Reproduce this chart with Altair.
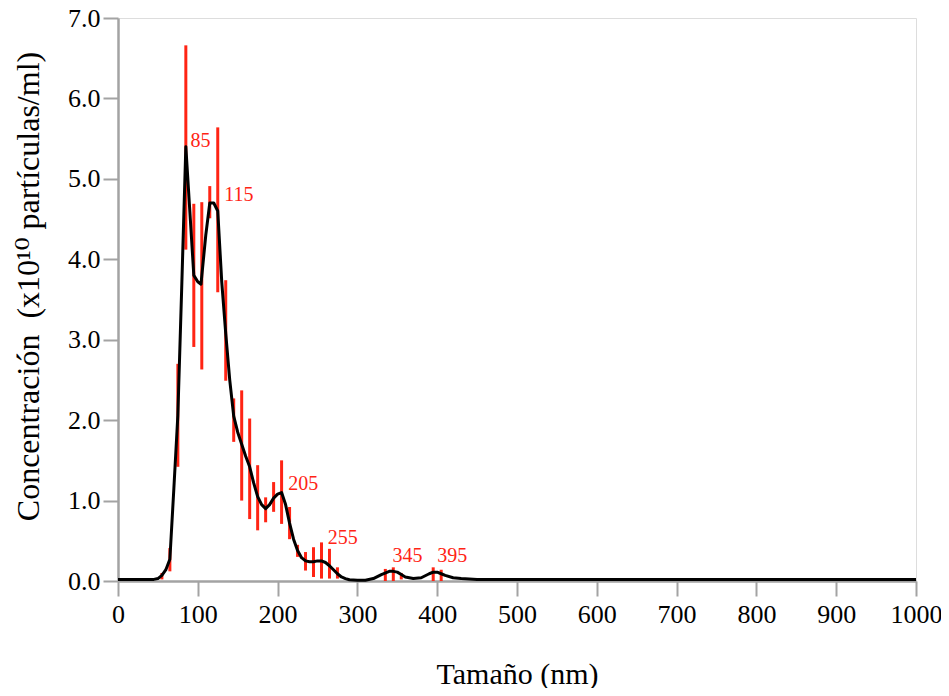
import altair as alt
import pandas as pd

# Black size-distribution curve (nm, concentration x10^10 particles/ml)
line_x = [0, 10, 20, 30, 40, 45, 50, 55, 60, 65, 70, 75, 80, 85, 90, 95, 100, 104,
          110, 115, 120, 125, 130, 135, 140, 145, 150, 155, 160, 165, 170, 175,
          180, 185, 190, 195, 200, 205, 210, 215, 220, 225, 230, 235, 240, 245,
          250, 255, 260, 265, 270, 275, 280, 285, 290, 300, 310, 320, 330, 340,
          345, 350, 355, 360, 370, 380, 390, 395, 400, 405, 410, 420, 430, 450,
          500, 600, 700, 800, 900, 1000]
line_y = [0.02, 0.02, 0.02, 0.02, 0.02, 0.02, 0.03, 0.07, 0.14, 0.27, 1.15, 2.06, 3.70, 5.40, 4.60, 3.80, 3.72, 3.69,
          4.30, 4.70, 4.70, 4.60, 3.72, 3.08, 2.50, 2.05, 1.85, 1.70, 1.55, 1.42, 1.22, 1.05,
          0.95, 0.90, 0.95, 1.03, 1.08, 1.10, 0.95, 0.72, 0.52, 0.38, 0.29, 0.25, 0.24, 0.24,
          0.25, 0.25, 0.23, 0.19, 0.14, 0.09, 0.05, 0.03, 0.015, 0.01, 0.01, 0.03, 0.08, 0.12,
          0.12, 0.11, 0.08, 0.05, 0.03, 0.04, 0.09, 0.11, 0.11, 0.09, 0.07, 0.04, 0.03, 0.02,
          0.02, 0.02, 0.02, 0.02, 0.02, 0.02]

# Red error bars
bar_x = [55, 65, 75, 85, 95, 105, 115, 125, 135, 145, 155, 165, 175, 185, 195, 205,
         215, 225, 235, 245, 255, 265, 275, 335, 345, 355, 395, 405]
bar_lo = [0.02, 0.12, 1.42, 4.12, 2.91, 2.63, 4.51, 3.59, 2.49, 1.73, 1.00, 0.77, 0.63, 0.73, 0.86, 0.71,
          0.52, 0.30, 0.13, 0.05, 0.03, 0.03, 0.03, 0.00, 0.00, 0.02, 0.00, 0.00]
bar_hi = [0.10, 0.41, 2.70, 6.66, 4.69, 4.71, 4.91, 5.64, 3.74, 2.27, 2.37, 2.02, 1.44, 1.04, 1.23, 1.50,
          0.92, 0.45, 0.36, 0.42, 0.48, 0.40, 0.17, 0.15, 0.17, 0.10, 0.17, 0.14]

# Peak labels
lab_text = ["85", "115", "205", "255", "345", "395"]
lab_x = [91, 133, 213.5, 263, 344, 400]
lab_y = [5.40, 4.72, 1.13, 0.46, 0.235, 0.235]

line_df = pd.DataFrame({"x": line_x, "y": line_y})
bar_df = pd.DataFrame({"x": bar_x, "lo": bar_lo, "hi": bar_hi})
lab_df = pd.DataFrame({"t": lab_text, "x": lab_x, "y": lab_y})

FONT = "Liberation Serif, DejaVu Serif, serif"
RED = "#ff2414"
GRAY = "#a3a3a3"

xscale = alt.Scale(domain=[0, 1000], nice=False, zero=False)
yscale = alt.Scale(domain=[0, 7], nice=False)

xaxis = alt.Axis(
    title="Tamaño (nm)", values=list(range(0, 1001, 100)), format="d",
    grid=False, domainColor=GRAY, domainWidth=2.5, tickColor=GRAY, tickWidth=2,
    tickSize=15, labelFont=FONT, labelFontSize=26, labelColor="black",
    labelPadding=5, titleFont=FONT, titleFontSize=30, titleFontWeight="normal",
    titleColor="black", titleY=102, titleBaseline="alphabetic", labelFlush=False,
)
yaxis = alt.Axis(
    title="Concentración\u00a0\u00a0(x10¹⁰ partículas/ml)", values=[0, 1, 2, 3, 4, 5, 6, 7],
    format=".1f", grid=False, domainColor=GRAY, domainWidth=2.5, tickColor=GRAY,
    tickWidth=2, tickSize=15, labelFont=FONT, labelFontSize=26, labelColor="black",
    labelPadding=3, titleFont=FONT, titleFontSize=32, titleFontWeight="normal",
    titleColor="black", titleX=-80, titleY=268, titleAngle=-90,
    titleBaseline="alphabetic", titleAlign="center", labelFlush=False,
)

bars = alt.Chart(bar_df).mark_rule(color=RED, strokeWidth=3).encode(
    x=alt.X("x:Q", scale=xscale, axis=xaxis),
    y=alt.Y("lo:Q", scale=yscale, axis=yaxis),
    y2="hi:Q",
)

line = alt.Chart(line_df).mark_line(color="black", strokeWidth=3, strokeJoin="round").encode(
    x=alt.X("x:Q", scale=xscale),
    y=alt.Y("y:Q", scale=yscale),
)

labels = alt.Chart(lab_df).mark_text(
    color=RED, font=FONT, fontSize=20, align="left", baseline="alphabetic"
).encode(
    x=alt.X("x:Q", scale=xscale),
    y=alt.Y("y:Q", scale=yscale),
    text="t:N",
)

chart = alt.layer(bars, line, labels).properties(
    width=798, height=563,
    autosize=alt.AutoSizeParams(type="none"),
    padding={"left": 110, "top": 10, "right": 25, "bottom": 107},
).configure_view(stroke=None).configure(background="white")

chart.save("out.html", embed_options={"renderer": "svg", "actions": False})
